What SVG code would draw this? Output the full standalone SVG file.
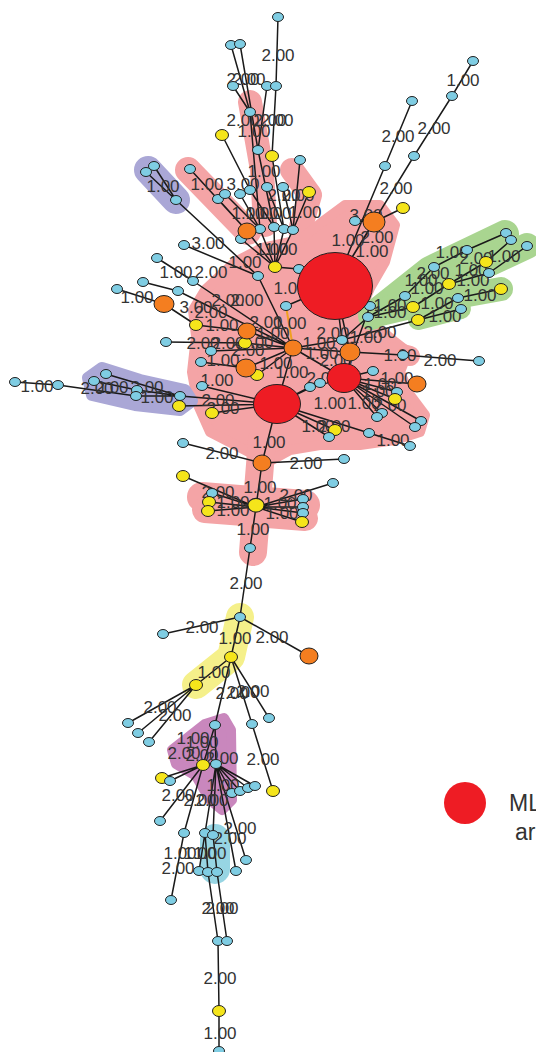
<svg xmlns="http://www.w3.org/2000/svg" xmlns:xlink="http://www.w3.org/1999/xlink" width="536" height="1052" viewBox="0 0 536 1052">
<style>
.e{stroke:#1a1a1a;stroke-width:1.5;fill:none}
.eo{stroke:#f0a020;stroke-width:2;fill:none}
.l{font-family:"Liberation Sans",Arial,sans-serif;font-size:17px;fill:#333;text-anchor:middle}
.hp{stroke:#f4a4a6;fill:#f4a4a6;stroke-linecap:round;stroke-linejoin:round}
.hv{stroke:#aaa7d6;fill:#aaa7d6;stroke-linecap:round;stroke-linejoin:round}
.hg{stroke:#a9d590;fill:none;stroke-linecap:round;stroke-linejoin:round}
.lg{font-family:"Liberation Sans",Arial,sans-serif;font-size:23px;fill:#333}
</style>
<defs>
<ellipse id="nb" rx="5.5" ry="4.5" fill="#7fcde3" stroke="#222" stroke-width="1"/>
<ellipse id="ny" rx="6.5" ry="5.5" fill="#f5e51b" stroke="#222" stroke-width="1"/>
<ellipse id="no" rx="9" ry="8" fill="#f47e20" stroke="#222" stroke-width="1"/>
</defs>
<rect width="536" height="1052" fill="#fff"/>
<g id="hulls">
<polyline class="hp" stroke-width="24" fill="none" points="250,102 262,170 265,225"/>
<polyline class="hp" stroke-width="26" fill="none" points="188,170 248,232"/>
<polyline class="hp" stroke-width="24" fill="none" points="292,170 310,195 300,230"/>
<polygon class="hp" stroke-width="10" points="205,290 235,262 262,248 300,240 322,222 345,205 380,205 395,225 385,262 370,288 360,312 395,342 408,352 400,372 410,395 425,415 420,432 395,440 360,445 320,445 290,450 268,462 245,450 210,432 198,405 192,372 196,336 193,310"/>
<polyline class="hp" stroke-width="28" fill="none" points="262,440 253,552"/>
<polyline class="hp" stroke-width="30" fill="none" points="202,497 305,505"/>
<polyline class="hp" stroke-width="26" fill="none" points="205,510 305,518"/>
<polyline class="hp" stroke-width="20" fill="none" points="395,352 410,356"/>
<polyline class="hv" stroke-width="28" fill="none" points="148,170 176,200"/>
<polygon class="hv" stroke-width="12" points="88,378 102,368 140,380 185,390 192,401 180,410 135,405 92,395"/>
<polyline class="hg" stroke-width="28" points="372,316 430,270 505,234"/>
<polyline class="hg" stroke-width="26" points="372,316 450,282 527,246"/>
<polyline class="hg" stroke-width="24" points="372,316 440,300 501,289"/>
<polyline class="hg" stroke-width="20" points="418,320 461,309"/>
<polyline stroke="#f5f08a" stroke-width="28" fill="none" stroke-linecap="round" stroke-linejoin="round" points="240,617 231,657 196,685"/>
<polygon fill="#c987bd" stroke="#c987bd" stroke-width="10" stroke-linejoin="round" points="172,750 205,724 224,718 231,730 232,800 222,810 210,800 196,776 176,764"/>
<rect x="200" y="824" width="30" height="60" rx="15" fill="#97d5e3"/>
</g>
<g id="connectors">
<path class="eo" d="M286,306 L293,348"/>
<path class="e" d="M299,269 L335,285 M275,267 L299,269 M286,306 L335,285 M293,348 L277,404 M293,348 L350,352 M293,348 L344,378 M293,348 L247,331 M293,348 L246,368 M293,348 L245,343 M293,348 L257,375 M293,348 L211,351 M293,348 L342,340 M342,340 L335,285 M350,352 L335,285 M293,348 L193,281 M293,348 L178,291 M176,200 L258,276 M258,276 L293,348 M247,331 L196,325 M196,325 L164,304 M164,304 L117,289 M143,282 L178,291 M157,258 L193,281 M184,245 L258,276 M166,342 L245,343 M246,368 L201,362 M202,386 L277,404 M277,404 L212,413 M277,404 L180,396 M277,404 L179,406 M277,404 L310,387 M277,404 L320,383 M277,404 L335,430 M277,404 L329,437 M277,404 L262,463 M277,404 L369,433 M369,433 L410,446"/>
<path class="e" d="M344,378 L373,371 M344,378 L417,384 M344,378 L397,392 M344,378 L395,399 M344,378 L382,413 M344,378 L377,417 M344,378 L421,421 M344,378 L415,427 M344,378 L370,306 M350,352 L403,355 M403,355 L479,361"/>
<path class="e" d="M335,285 L385,166 M385,166 L412,101 M335,285 L414,156 M414,156 L452,96 M452,96 L473,61 M335,285 L374,222 M374,222 L355,221 M374,222 L403,208"/>
<path class="e" d="M278,17 L276,86 M267,86 L258,150 M276,86 L272,156 M231,45 L250,112 M240,44 L258,150 M233,86 L250,112 M250,112 L260,229 M258,150 L274,227 M272,156 L284,229 M300,160 L293,230 M309,192 L293,230 M222,135 L250,190 M146,172 L176,200 M154,166 L176,200 M190,169 L247,231 M218,199 L247,231 M225,194 L260,229 M240,194 L260,229 M250,190 L274,227 M267,187 L284,229 M283,187 L293,230 M260,229 L275,267 M274,227 L275,267 M284,229 L275,267 M293,230 L275,267 M241,239 L275,267 M247,231 L275,267"/>
<path class="e" d="M15,382 L58,385 M58,385 L136,396 M136,396 L180,396 M94,381 L137,390 M137,390 L180,396 M106,374 L180,396"/>
<path class="e" d="M368,317 L342,340 M405,296 L368,317 M434,267 L405,296 M467,250 L434,267 M506,233 L467,250 M511,240 L486,262 M486,262 L449,284 M527,246 L489,273 M489,273 L449,284 M449,284 L413,307 M413,307 L368,317 M501,289 L458,298 M458,298 L418,320 M461,309 L418,320 M418,320 L342,340"/>
<path class="e" d="M262,463 L183,443 M262,463 L344,459 M262,463 L256,507 M256,507 L183,476 M256,507 L333,483 M256,507 L212,493 M256,507 L209,502 M256,507 L208,511 M256,507 L303,499 M256,507 L303,507 M256,507 L303,513 M256,507 L302,522 M256,507 L250,548 M250,548 L240,617"/>
<path class="e" d="M240,617 L163,634 M240,617 L309,656 M240,617 L231,657 M231,657 L196,685 M231,657 L215,725 M231,657 L252,724 M231,657 L269,718 M196,685 L128,723 M196,685 L138,733 M196,685 L149,742 M215,725 L203,765 M215,725 L216,764 M252,724 L273,791 M203,765 L162,778 M203,765 L170,781 M203,765 L160,821 M203,765 L184,833 M216,764 L232,793 M216,764 L240,791 M216,764 L248,788 M216,764 L255,786 M216,764 L205,833 M216,764 L213,835 M216,764 L246,860 M216,764 L236,871 M205,833 L199,871 M205,833 L208,872 M213,835 L217,872 M184,833 L171,900 M208,872 L218,941 M217,872 L227,941 M218,941 L219,1011 M219,1011 L219,1051"/>
</g>
<g id="labels">
<text class="l" x="278" y="61">2.00</text>
<text class="l" x="243" y="85">2.00</text><text class="l" x="249" y="85">2.00</text>
<text class="l" x="243" y="126">2.00</text><text class="l" x="270" y="126">2.00</text><text class="l" x="277" y="126">2.00</text>
<text class="l" x="254" y="137">1.00</text>
<text class="l" x="264" y="177">1.00</text>
<text class="l" x="163" y="192">1.00</text>
<text class="l" x="207" y="190">1.00</text><text class="l" x="243" y="190">3.00</text>
<text class="l" x="284" y="201">2.00</text><text class="l" x="298" y="201">2.00</text>
<text class="l" x="305" y="218">1.00</text>
<text class="l" x="248" y="219">1.00</text><text class="l" x="262" y="219">1.00</text><text class="l" x="275" y="219">1.00</text>
<text class="l" x="208" y="249">3.00</text>
<text class="l" x="272" y="255">1.00</text><text class="l" x="281" y="255">1.00</text>
<text class="l" x="245" y="268">1.00</text>
<text class="l" x="176" y="278">1.00</text><text class="l" x="211" y="278">2.00</text>
<text class="l" x="290" y="294">1.00</text>
<text class="l" x="137" y="303">1.00</text>
<text class="l" x="228" y="306">2.00</text><text class="l" x="247" y="306">2.00</text>
<text class="l" x="196" y="313">3.00</text><text class="l" x="211" y="318">2.00</text>
<text class="l" x="222" y="331">1.00</text><text class="l" x="266" y="328">2.00</text><text class="l" x="290" y="329">1.00</text>
<text class="l" x="273" y="339">1.00</text>
<text class="l" x="333" y="339">2.00</text><text class="l" x="366" y="343">1.00</text><text class="l" x="380" y="338">2.00</text>
<text class="l" x="203" y="349">2.00</text><text class="l" x="228" y="349">2.00</text><text class="l" x="248" y="356">2.00</text><text class="l" x="257" y="348">1.00</text>
<text class="l" x="319" y="349">1.00</text>
<text class="l" x="400" y="361">1.00</text><text class="l" x="440" y="366">2.00</text>
<text class="l" x="223" y="366">1.00</text><text class="l" x="276" y="369">1.00</text>
<text class="l" x="322" y="359">1.00</text><text class="l" x="336" y="366">2.00</text>
<text class="l" x="292" y="378">1.00</text><text class="l" x="323" y="384">2.00</text>
<text class="l" x="397" y="384">1.00</text><text class="l" x="380" y="390">1.00</text><text class="l" x="378" y="397">1.00</text>
<text class="l" x="217" y="386">1.00</text>
<text class="l" x="37" y="392">1.00</text>
<text class="l" x="97" y="394">2.00</text><text class="l" x="112" y="393">2.00</text><text class="l" x="147" y="393">2.00</text>
<text class="l" x="157" y="403">1.00</text>
<text class="l" x="218" y="406">2.00</text><text class="l" x="223" y="414">2.00</text>
<text class="l" x="330" y="409">1.00</text><text class="l" x="364" y="409">1.00</text><text class="l" x="390" y="411">2.00</text>
<text class="l" x="318" y="432">1.00</text><text class="l" x="334" y="432">2.00</text>
<text class="l" x="393" y="446">1.00</text>
<text class="l" x="269" y="448">1.00</text>
<text class="l" x="222" y="459">2.00</text><text class="l" x="306" y="469">2.00</text>
<text class="l" x="260" y="493">1.00</text>
<text class="l" x="218" y="498">2.00</text><text class="l" x="296" y="501">2.00</text>
<text class="l" x="233" y="508">1.00</text><text class="l" x="233" y="516">1.00</text>
<text class="l" x="280" y="509">1.00</text><text class="l" x="282" y="519">1.00</text>
<text class="l" x="253" y="535">1.00</text>
<text class="l" x="246" y="589">2.00</text>
<text class="l" x="202" y="633">2.00</text><text class="l" x="235" y="644">1.00</text><text class="l" x="272" y="643">2.00</text>
<text class="l" x="214" y="678">1.00</text>
<text class="l" x="232" y="699">2.00</text><text class="l" x="243" y="698">2.00</text><text class="l" x="253" y="697">2.00</text>
<text class="l" x="160" y="713">2.00</text><text class="l" x="175" y="721">2.00</text>
<text class="l" x="193" y="744">1.00</text><text class="l" x="202" y="748">1.00</text>
<text class="l" x="184" y="759">2.00</text><text class="l" x="202" y="761">2.00</text><text class="l" x="222" y="764">2.00</text><text class="l" x="263" y="765">2.00</text>
<text class="l" x="223" y="791">1.00</text>
<text class="l" x="178" y="801">2.00</text><text class="l" x="200" y="806">2.00</text><text class="l" x="212" y="806">2.00</text>
<text class="l" x="240" y="834">2.00</text><text class="l" x="230" y="844">2.00</text>
<text class="l" x="180" y="859">1.00</text><text class="l" x="200" y="859">1.00</text><text class="l" x="210" y="859">1.00</text>
<text class="l" x="178" y="874">2.00</text>
<text class="l" x="218" y="914">2.00</text><text class="l" x="222" y="914">2.00</text>
<text class="l" x="220" y="984">2.00</text>
<text class="l" x="220" y="1039">1.00</text>
<text class="l" x="463" y="86">1.00</text><text class="l" x="434" y="134">2.00</text><text class="l" x="398" y="142">2.00</text><text class="l" x="396" y="194">2.00</text>
<text class="l" x="366" y="221">3.00</text>
<text class="l" x="348" y="246">1.00</text><text class="l" x="377" y="243">2.00</text><text class="l" x="372" y="257">1.00</text>
<text class="l" x="452" y="258">1.00</text><text class="l" x="476" y="264">2.00</text><text class="l" x="504" y="262">1.00</text>
<text class="l" x="433" y="279">2.00</text><text class="l" x="471" y="276">1.00</text>
<text class="l" x="421" y="286">1.00</text><text class="l" x="427" y="294">1.00</text><text class="l" x="473" y="286">1.00</text>
<text class="l" x="480" y="301">1.00</text><text class="l" x="437" y="309">1.00</text>
<text class="l" x="390" y="311">1.00</text><text class="l" x="390" y="318">1.00</text><text class="l" x="445" y="322">1.00</text>
</g>
<g id="nodes">
<g id="t1"><use href="#nb" x="278" y="17"/></g>
<g id="t2"><use href="#nb" x="267" y="86"/></g>
<g id="t3"><use href="#nb" x="276" y="86"/></g>
<g id="t4"><use href="#nb" x="231" y="45"/></g>
<g id="t5"><use href="#nb" x="240" y="44"/></g>
<g id="t6"><use href="#nb" x="233" y="86"/></g>
<g id="t7"><use href="#nb" x="250" y="112"/></g>
<g id="t8"><use href="#nb" x="258" y="150"/></g>
<g id="t9"><use href="#ny" x="272" y="156"/></g>
<g id="t10"><use href="#ny" x="222" y="135"/></g>
<g id="t11"><use href="#nb" x="300" y="160"/></g>
<g id="t12"><use href="#ny" x="309" y="192"/></g>
<g id="t13"><use href="#nb" x="146" y="172"/></g>
<g id="t14"><use href="#nb" x="154" y="166"/></g>
<g id="t15"><use href="#nb" x="176" y="200"/></g>
<g id="t16"><use href="#nb" x="190" y="169"/></g>
<g id="t17"><use href="#nb" x="218" y="199"/></g>
<g id="t18"><use href="#nb" x="225" y="194"/></g>
<g id="t19"><use href="#nb" x="240" y="194"/></g>
<g id="t20"><use href="#nb" x="250" y="190"/></g>
<g id="t21"><use href="#nb" x="267" y="187"/></g>
<g id="t22"><use href="#nb" x="283" y="187"/></g>
<g id="t23"><use href="#nb" x="260" y="229"/></g>
<g id="t24"><use href="#nb" x="274" y="227"/></g>
<g id="t25"><use href="#nb" x="284" y="229"/></g>
<g id="t26"><use href="#nb" x="293" y="230"/></g>
<g id="t27"><use href="#nb" x="241" y="239"/></g>
<g id="t28"><use href="#nb" x="184" y="245"/></g>
<g id="t29"><use href="#ny" x="275" y="267"/></g>
<g id="t30"><use href="#nb" x="299" y="269"/></g>
<g id="t31"><use href="#nb" x="258" y="276"/></g>
<g id="t32"><use href="#nb" x="157" y="258"/></g>
<g id="t33"><use href="#nb" x="193" y="281"/></g>
<g id="t34"><use href="#nb" x="143" y="282"/></g>
<g id="t35"><use href="#nb" x="117" y="289"/></g>
<g id="t36"><use href="#nb" x="178" y="291"/></g>
<g id="t37"><use href="#nb" x="286" y="306"/></g>
<g id="r1"><use href="#nb" x="473" y="61"/></g>
<g id="r2"><use href="#nb" x="452" y="96"/></g>
<g id="r3"><use href="#nb" x="414" y="156"/></g>
<g id="r4"><use href="#nb" x="412" y="101"/></g>
<g id="r5"><use href="#nb" x="385" y="166"/></g>
<g id="r6"><use href="#nb" x="355" y="221"/></g>
<g id="r7"><use href="#ny" x="403" y="208"/></g>
<g id="g1"><use href="#nb" x="506" y="233"/></g>
<g id="g2"><use href="#nb" x="511" y="240"/></g>
<g id="g3"><use href="#nb" x="527" y="246"/></g>
<g id="g4"><use href="#nb" x="467" y="250"/></g>
<g id="g5"><use href="#nb" x="434" y="267"/></g>
<g id="g6"><use href="#ny" x="486" y="262"/></g>
<g id="g7"><use href="#nb" x="489" y="273"/></g>
<g id="g8"><use href="#ny" x="449" y="284"/></g>
<g id="g9"><use href="#ny" x="501" y="289"/></g>
<g id="g10"><use href="#nb" x="458" y="298"/></g>
<g id="g11"><use href="#nb" x="461" y="309"/></g>
<g id="g12"><use href="#ny" x="413" y="307"/></g>
<g id="g13"><use href="#ny" x="418" y="320"/></g>
<g id="g14"><use href="#nb" x="405" y="296"/></g>
<g id="g15"><use href="#nb" x="368" y="317"/></g>
<g id="c1"><use href="#ny" x="196" y="325"/></g>
<g id="c2"><use href="#ny" x="245" y="343"/></g>
<g id="c3"><use href="#ny" x="257" y="375"/></g>
<g id="c4"><use href="#nb" x="201" y="362"/></g>
<g id="c5"><use href="#nb" x="211" y="351"/></g>
<g id="c6"><use href="#nb" x="202" y="386"/></g>
<g id="c7"><use href="#ny" x="212" y="413"/></g>
<g id="c9"><use href="#nb" x="310" y="387"/></g>
<g id="c10"><use href="#nb" x="320" y="383"/></g>
<g id="c11"><use href="#nb" x="373" y="371"/></g>
<g id="c12"><use href="#nb" x="370" y="306"/></g>
<g id="c14"><use href="#nb" x="342" y="340"/></g>
<g id="c16"><use href="#nb" x="403" y="355"/></g>
<g id="c17"><use href="#nb" x="479" y="361"/></g>
<g id="c18"><use href="#nb" x="397" y="392"/></g>
<g id="c19"><use href="#ny" x="395" y="399"/></g>
<g id="c20"><use href="#nb" x="382" y="413"/></g>
<g id="c21"><use href="#nb" x="377" y="417"/></g>
<g id="c22"><use href="#nb" x="421" y="421"/></g>
<g id="c23"><use href="#nb" x="415" y="427"/></g>
<g id="c24"><use href="#ny" x="335" y="430"/></g>
<g id="c25"><use href="#nb" x="329" y="437"/></g>
<g id="c26"><use href="#nb" x="369" y="433"/></g>
<g id="c27"><use href="#nb" x="410" y="446"/></g>
<g id="c28"><use href="#nb" x="166" y="342"/></g>
<g id="p1"><use href="#nb" x="15" y="382"/></g>
<g id="p2"><use href="#nb" x="58" y="385"/></g>
<g id="p3"><use href="#nb" x="106" y="374"/></g>
<g id="p4"><use href="#nb" x="94" y="381"/></g>
<g id="p5"><use href="#nb" x="137" y="390"/></g>
<g id="p6"><use href="#nb" x="136" y="396"/></g>
<g id="p7"><use href="#nb" x="180" y="396"/></g>
<g id="p8"><use href="#ny" x="179" y="406"/></g>
<g id="d1"><use href="#nb" x="183" y="443"/></g>
<g id="d2"><use href="#nb" x="344" y="459"/></g>
<g id="d3"><use href="#ny" x="256" y="507" transform="translate(-64 -128.5) scale(1.25)"/></g>
<g id="d4"><use href="#ny" x="183" y="476"/></g>
<g id="d5"><use href="#nb" x="333" y="483"/></g>
<g id="d6"><use href="#nb" x="212" y="493"/></g>
<g id="d7"><use href="#ny" x="209" y="502"/></g>
<g id="d8"><use href="#ny" x="208" y="511"/></g>
<g id="d9"><use href="#nb" x="303" y="499"/></g>
<g id="d10"><use href="#nb" x="303" y="507"/></g>
<g id="d11"><use href="#nb" x="303" y="513"/></g>
<g id="d12"><use href="#ny" x="302" y="522"/></g>
<g id="d13"><use href="#nb" x="250" y="548"/></g>
<g id="d14"><use href="#nb" x="240" y="617"/></g>
<g id="d15"><use href="#nb" x="163" y="634"/></g>
<g id="d16"><use href="#ny" x="231" y="657"/></g>
<g id="d17"><use href="#ny" x="196" y="685"/></g>
<g id="d18"><use href="#nb" x="215" y="725"/></g>
<g id="d19"><use href="#nb" x="252" y="724"/></g>
<g id="d20"><use href="#nb" x="269" y="718"/></g>
<g id="d21"><use href="#nb" x="128" y="723"/></g>
<g id="d22"><use href="#nb" x="138" y="733"/></g>
<g id="d23"><use href="#nb" x="149" y="742"/></g>
<g id="d24"><use href="#ny" x="203" y="765"/></g>
<g id="d25"><use href="#nb" x="216" y="764"/></g>
<g id="d26"><use href="#ny" x="162" y="778"/></g>
<g id="d27"><use href="#nb" x="170" y="781"/></g>
<g id="d28"><use href="#ny" x="273" y="791"/></g>
<g id="d29"><use href="#nb" x="232" y="793"/></g>
<g id="d30"><use href="#nb" x="240" y="791"/></g>
<g id="d31"><use href="#nb" x="248" y="788"/></g>
<g id="d32"><use href="#nb" x="255" y="786"/></g>
<g id="d33"><use href="#nb" x="160" y="821"/></g>
<g id="d34"><use href="#nb" x="184" y="833"/></g>
<g id="d35"><use href="#nb" x="205" y="833"/></g>
<g id="d36"><use href="#nb" x="213" y="835"/></g>
<g id="d37"><use href="#nb" x="246" y="860"/></g>
<g id="d38"><use href="#nb" x="236" y="871"/></g>
<g id="d39"><use href="#nb" x="199" y="871"/></g>
<g id="d40"><use href="#nb" x="208" y="872"/></g>
<g id="d41"><use href="#nb" x="217" y="872"/></g>
<g id="d42"><use href="#nb" x="171" y="900"/></g>
<g id="d43"><use href="#nb" x="218" y="941"/></g>
<g id="d44"><use href="#nb" x="227" y="941"/></g>
<g id="d45"><use href="#ny" x="219" y="1011"/></g>
<g id="d46"><use href="#nb" x="219" y="1051"/></g>
<g id="O1"><use href="#no" x="293" y="348"/></g>
<g id="O2"><ellipse cx="350" cy="352" rx="10" ry="9" fill="#f47e20" stroke="#222"/></g>
<g id="O3"><use href="#no" x="247" y="331"/></g>
<g id="O4"><ellipse cx="246" cy="368" rx="10" ry="9" fill="#f47e20" stroke="#222"/></g>
<g id="O5"><use href="#no" x="262" y="463"/></g>
<g id="O6"><ellipse cx="374" cy="222" rx="11" ry="10" fill="#f47e20" stroke="#222"/></g>
<g id="O7"><ellipse cx="164" cy="304" rx="10" ry="8.5" fill="#f47e20" stroke="#222"/></g>
<g id="O8"><use href="#no" x="247" y="231"/></g>
<g id="O9"><use href="#no" x="417" y="384"/></g>
<g id="O10"><use href="#no" x="309" y="656"/></g>
<g id="A"><ellipse cx="335" cy="286" rx="37.5" ry="33.5" fill="#ee1c24" stroke="#222"/></g>
<g id="B"><ellipse cx="277" cy="404" rx="23.5" ry="19.5" fill="#ee1c24" stroke="#222"/></g>
<g id="C"><ellipse cx="344" cy="378" rx="17" ry="14.5" fill="#ee1c24" stroke="#222"/></g>
</g>
<g id="legend">
<circle cx="465" cy="803" r="21" fill="#ee1c24"/>
<text class="lg" x="509" y="811">ML</text>
<text class="lg" x="515" y="840">ar</text>
</g>
</svg>
